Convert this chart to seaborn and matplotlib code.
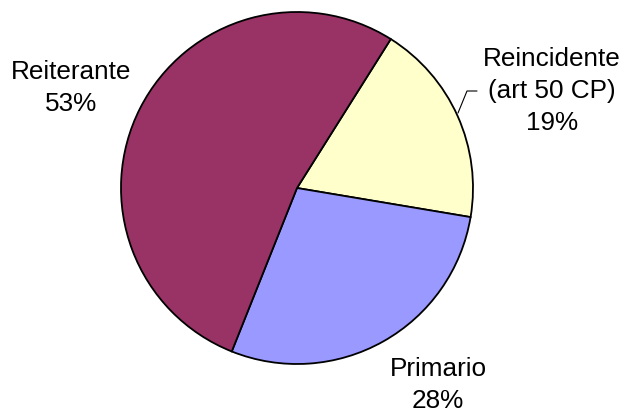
import matplotlib
matplotlib.use("Agg")
import matplotlib.pyplot as plt
import seaborn as sns

categories = ["Reincidente\n(art 50 CP)", "Primario", "Reiterante"]
values = [18.7, 28.4, 52.9]
pct_labels = ["19%", "28%", "53%"]
colors = ["#FFFFCC", "#9999FF", "#993366"]

sns.set_theme(style="white")
plt.rcParams['font.family'] = ['Liberation Sans', 'DejaVu Sans']

fig = plt.figure(figsize=(6.28, 4.12), dpi=100)
W, H = 628, 412
cx, cy, r = 297, 188, 176
ax = fig.add_axes([(cx - r) / W, (H - cy - r) / H, 2 * r / W, 2 * r / H])
ax.pie(values, colors=colors, startangle=57.8, counterclock=False,
       wedgeprops=dict(edgecolor="black", linewidth=1.3))
ax.set_xlim(-1, 1)
ax.set_ylim(-1, 1)
ax.set_aspect("equal")
ax.axis("off")

def d(px, py):
    return (px - cx) / r, (cy - py) / r

fs = 18.8
lab_pos = [d(552, 91), d(438, 385), d(71, 88)]
for cat, p, (x, y) in zip(categories, pct_labels, lab_pos):
    ax.text(x, y, cat + "\n" + p, ha="center", va="center", fontsize=fs,
            linespacing=1.4, color="black", clip_on=False)

# leader line for Reincidente
pts = [d(458, 113), d(467, 91), d(477, 91)]
ax.plot([p[0] for p in pts], [p[1] for p in pts], color="black", lw=0.8,
        clip_on=False)

fig.savefig("out.png", dpi=100)
